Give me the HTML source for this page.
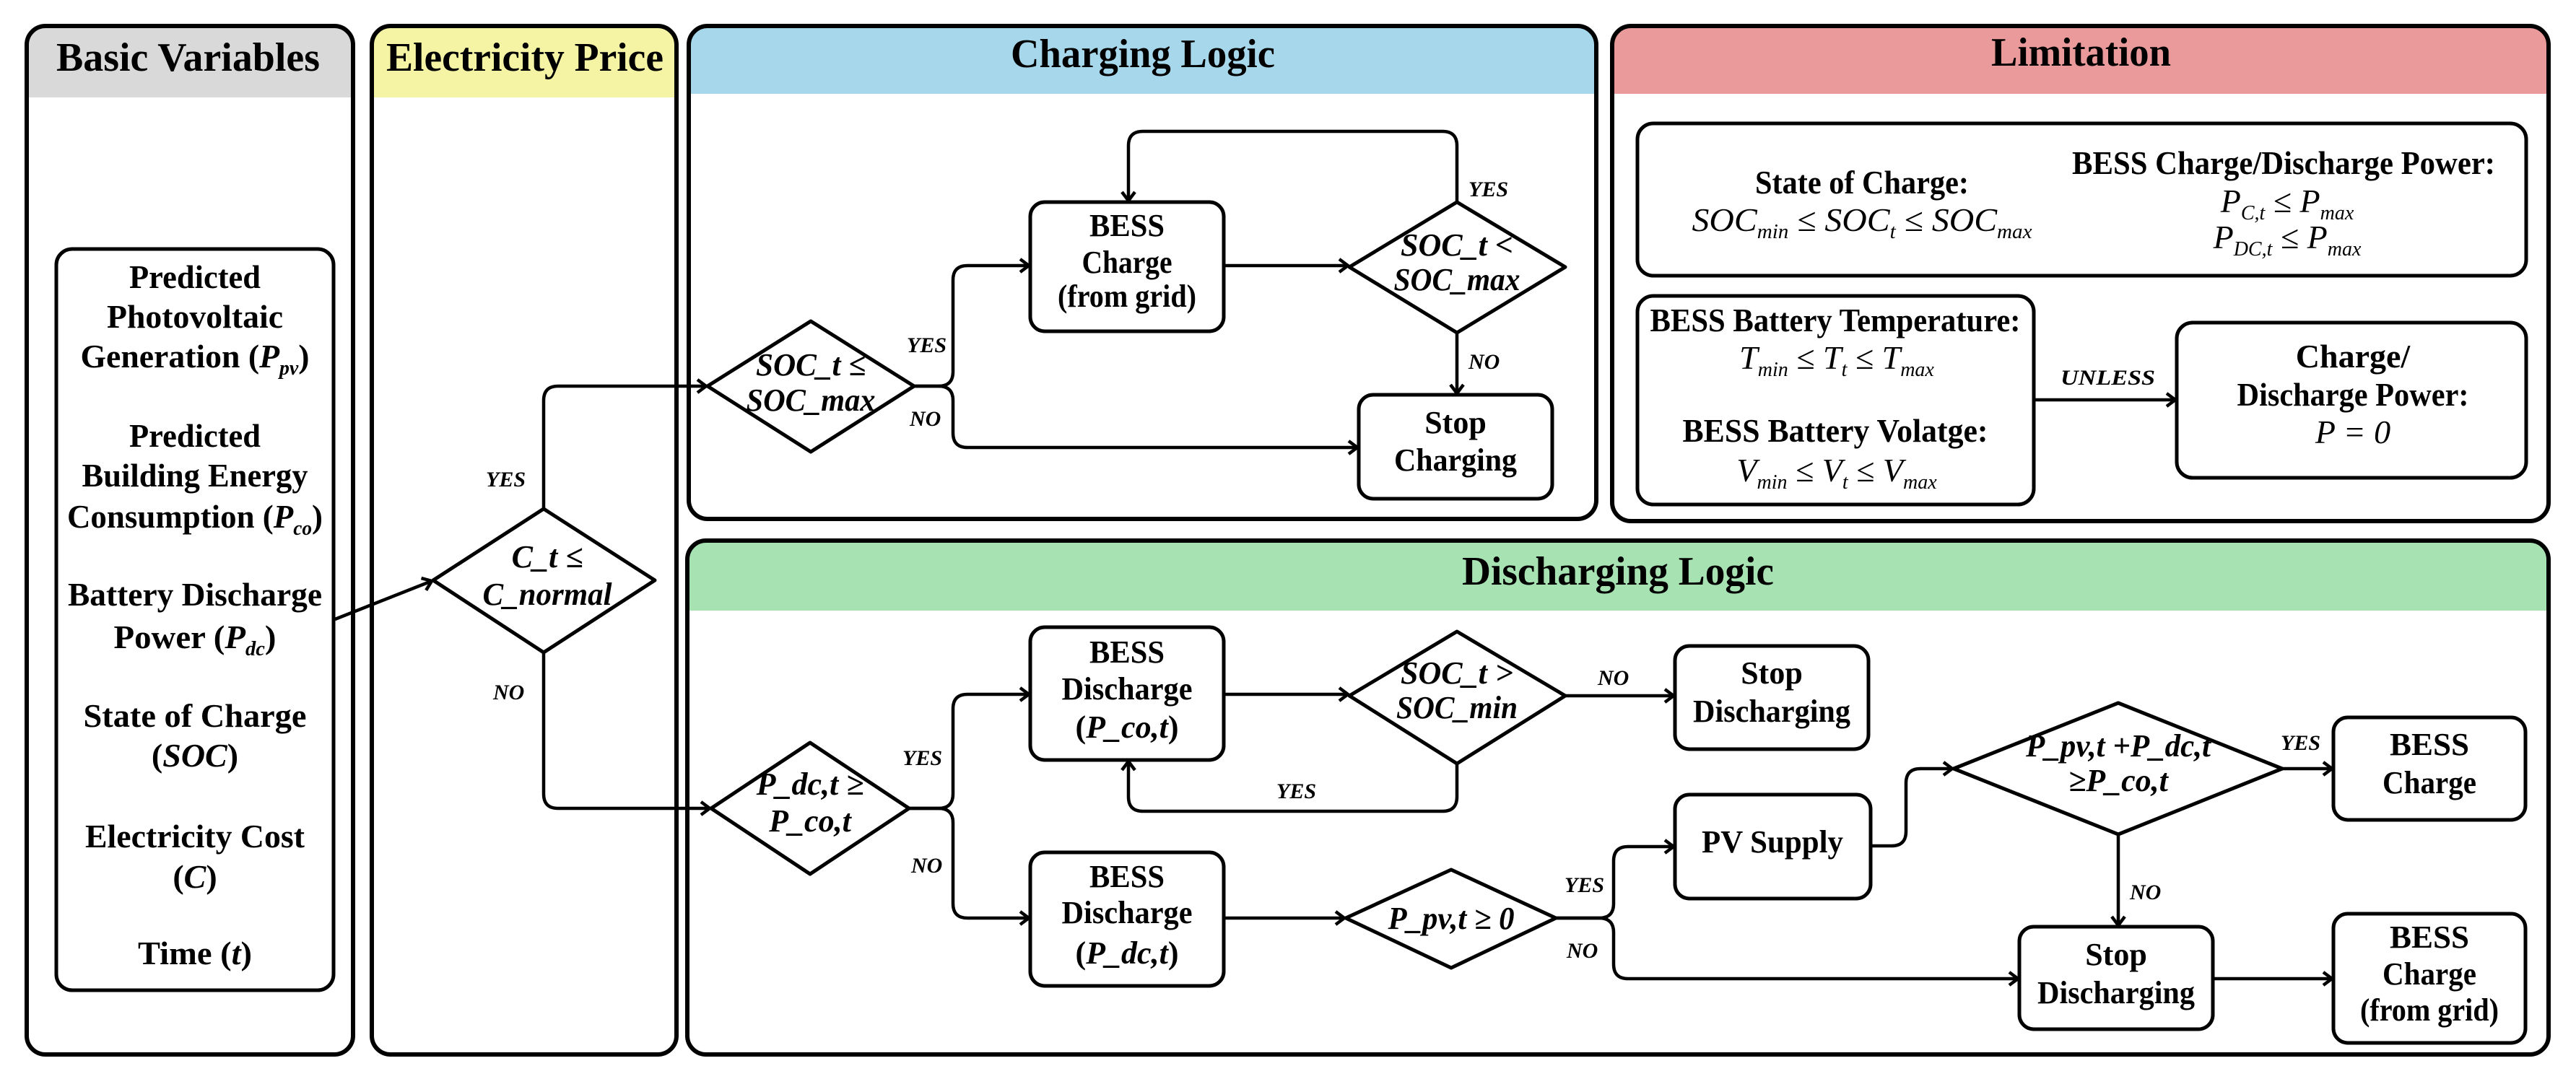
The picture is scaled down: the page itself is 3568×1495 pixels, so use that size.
<!DOCTYPE html>
<html><head><meta charset="utf-8"><style>
html,body{margin:0;padding:0;background:#fff;}
svg{display:block;}
text{font-family:"Liberation Serif","DejaVu Serif",serif;fill:#000;}
.h{font-size:56px;font-weight:bold;}
.b{font-size:46px;font-weight:bold;}
.bx{font-size:44px;font-weight:bold;}
.d{font-size:44px;font-weight:bold;font-style:italic;}
.l{font-size:30px;font-weight:bold;font-style:italic;}
.f{font-size:46px;font-style:italic;}
.panel{fill:none;stroke:#000;stroke-width:6;}
.box{fill:#fff;stroke:#000;stroke-width:5;}
.c{fill:none;stroke:#000;stroke-width:4.5;}
</style></head><body>
<svg width="3568" height="1495" viewBox="0 0 3568 1495" xmlns="http://www.w3.org/2000/svg">
<defs>
<marker id="a" markerWidth="24" markerHeight="24" refX="20" refY="12" orient="auto" markerUnits="userSpaceOnUse">
<polyline points="8,3 20,12 8,21" fill="none" stroke="#000" stroke-width="4.5"/>
</marker>
<clipPath id="p1"><rect x="37" y="36" width="452" height="1425" rx="26"/></clipPath>
<clipPath id="p2"><rect x="515" y="36" width="422" height="1425" rx="26"/></clipPath>
<clipPath id="p3"><rect x="954" y="36" width="1257" height="683" rx="26"/></clipPath>
<clipPath id="p4"><rect x="2233" y="36" width="1297" height="686" rx="26"/></clipPath>
<clipPath id="p5"><rect x="952" y="749" width="2578" height="712" rx="26"/></clipPath>
</defs>
<rect width="3568" height="1495" fill="#fff"/>

<!-- headers -->
<rect x="37" y="36" width="452" height="99" fill="#d9d9d9" clip-path="url(#p1)"/>
<rect x="515" y="36" width="422" height="99" fill="#f4f4a4" clip-path="url(#p2)"/>
<rect x="954" y="36" width="1257" height="94" fill="#a6d7eb" clip-path="url(#p3)"/>
<rect x="2233" y="36" width="1297" height="94" fill="#eb9a9b" clip-path="url(#p4)"/>
<rect x="952" y="749" width="2578" height="97" fill="#a6e2b2" clip-path="url(#p5)"/>

<rect class="panel" x="37" y="36" width="452" height="1425" rx="26"/>
<rect class="panel" x="515" y="36" width="422" height="1425" rx="26"/>
<rect class="panel" x="954" y="36" width="1257" height="683" rx="26"/>
<rect class="panel" x="2233" y="36" width="1297" height="686" rx="26"/>
<rect class="panel" x="952" y="749" width="2578" height="712" rx="26"/>

<text class="h" x="78" y="98" textLength="365" lengthAdjust="spacingAndGlyphs">Basic Variables</text>
<text class="h" x="535" y="98" textLength="384" lengthAdjust="spacingAndGlyphs">Electricity Price</text>
<text class="h" x="1400" y="93" textLength="366" lengthAdjust="spacingAndGlyphs">Charging Logic</text>
<text class="h" x="2758" y="91" textLength="249" lengthAdjust="spacingAndGlyphs">Limitation</text>
<text class="h" x="2025" y="810" textLength="432" lengthAdjust="spacingAndGlyphs">Discharging Logic</text>

<!-- basic variables box -->
<rect class="box" x="78" y="345" width="384" height="1027" rx="22"/>
<g class="b" text-anchor="middle">
<text x="270" y="399" textLength="182" lengthAdjust="spacingAndGlyphs">Predicted</text>
<text x="270" y="454" textLength="244" lengthAdjust="spacingAndGlyphs">Photovoltaic</text>
<text x="270" y="509" textLength="317" lengthAdjust="spacingAndGlyphs">Generation (<tspan font-style="italic">P</tspan><tspan font-size="28" dy="10" font-style="italic">pv</tspan><tspan dy="-10">)</tspan></text>
<text x="270" y="619" textLength="182" lengthAdjust="spacingAndGlyphs">Predicted</text>
<text x="270" y="674" textLength="313" lengthAdjust="spacingAndGlyphs">Building Energy</text>
<text x="270" y="731" textLength="354" lengthAdjust="spacingAndGlyphs">Consumption (<tspan font-style="italic">P</tspan><tspan font-size="28" dy="10" font-style="italic">co</tspan><tspan dy="-10">)</tspan></text>
<text x="270" y="839" textLength="352" lengthAdjust="spacingAndGlyphs">Battery Discharge</text>
<text x="270" y="898" textLength="225" lengthAdjust="spacingAndGlyphs">Power (<tspan font-style="italic">P</tspan><tspan font-size="28" dy="10" font-style="italic">dc</tspan><tspan dy="-10">)</tspan></text>
<text x="270" y="1007" textLength="309" lengthAdjust="spacingAndGlyphs">State of Charge</text>
<text x="270" y="1062">(<tspan font-style="italic">SOC</tspan>)</text>
<text x="270" y="1174" textLength="304" lengthAdjust="spacingAndGlyphs">Electricity Cost</text>
<text x="270" y="1230">(<tspan font-style="italic">C</tspan>)</text>
<text x="270" y="1336" textLength="158" lengthAdjust="spacingAndGlyphs">Time (<tspan font-style="italic">t</tspan>)</text>
</g>

<!-- electricity diamond -->
<polygon class="box" points="753,705 907,804 753,904 600,804" stroke-linejoin="round"/>
<g class="d" text-anchor="middle">
<text x="758" y="786">C_t ≤</text>
<text x="758" y="838" textLength="179" lengthAdjust="spacingAndGlyphs">C_normal</text>
</g>
<path class="c" d="M464,858 L598,805" marker-end="url(#a)"/>
<path class="c" d="M753,705 V555 Q753,535 773,535 H978" marker-end="url(#a)"/>
<path class="c" d="M753,904 V1100 Q753,1120 773,1120 H983" marker-end="url(#a)"/>
<text class="l" x="673" y="674">YES</text>
<text class="l" x="683" y="969">NO</text>

<!-- charging logic -->
<polygon class="box" points="1123,445 1266,535 1123,626 980,535" stroke-linejoin="round"/>
<g class="d" text-anchor="middle">
<text x="1123" y="520" textLength="152" lengthAdjust="spacingAndGlyphs">SOC_t ≤</text>
<text x="1123" y="569" textLength="179" lengthAdjust="spacingAndGlyphs">SOC_max</text>
</g>
<path class="c" d="M1266,535 H1300 Q1320,535 1320,515 V388 Q1320,368 1340,368 H1425" marker-end="url(#a)"/>
<path class="c" d="M1266,535 H1300 Q1320,535 1320,555 V600 Q1320,620 1340,620 H1880" marker-end="url(#a)"/>
<text class="l" x="1256" y="488">YES</text>
<text class="l" x="1260" y="590">NO</text>

<rect class="box" x="1427" y="280" width="268" height="179" rx="20"/>
<g class="bx" text-anchor="middle">
<text x="1561" y="327" textLength="104" lengthAdjust="spacingAndGlyphs">BESS</text>
<text x="1561" y="378" textLength="125" lengthAdjust="spacingAndGlyphs">Charge</text>
<text x="1561" y="425" textLength="192" lengthAdjust="spacingAndGlyphs">(from grid)</text>
</g>
<path class="c" d="M1695,368 H1867" marker-end="url(#a)"/>
<polygon class="box" points="2018,280 2168,370 2018,461 1869,370" stroke-linejoin="round"/>
<g class="d" text-anchor="middle">
<text x="2018" y="354">SOC_t &lt;</text>
<text x="2018" y="402" textLength="175" lengthAdjust="spacingAndGlyphs">SOC_max</text>
</g>
<path class="c" d="M2018,280 V202 Q2018,182 1998,182 H1583 Q1563,182 1563,202 V278" marker-end="url(#a)"/>
<text class="l" x="2034" y="272">YES</text>
<path class="c" d="M2018,461 V545" marker-end="url(#a)"/>
<text class="l" x="2034" y="511">NO</text>
<rect class="box" x="1882" y="547" width="268" height="144" rx="20"/>
<g class="bx" text-anchor="middle">
<text x="2016" y="600">Stop</text>
<text x="2016" y="652" textLength="170" lengthAdjust="spacingAndGlyphs">Charging</text>
</g>

<!-- limitation -->
<rect class="box" x="2268" y="171" width="1231" height="211" rx="22"/>
<g class="b" text-anchor="middle">
<text x="2579" y="268" textLength="296" lengthAdjust="spacingAndGlyphs">State of Charge:</text>
<text x="3163" y="241" textLength="586" lengthAdjust="spacingAndGlyphs">BESS Charge/Discharge Power:</text>
</g>
<g class="f" text-anchor="middle">
<text x="2579" y="320" textLength="471" lengthAdjust="spacingAndGlyphs">SOC<tspan font-size="28" dy="10">min</tspan><tspan dy="-10"> ≤ SOC</tspan><tspan font-size="28" dy="10">t</tspan><tspan dy="-10"> ≤ SOC</tspan><tspan font-size="28" dy="10">max</tspan></text>
<text x="3168" y="294">P<tspan font-size="28" dy="10">C,t</tspan><tspan dy="-10"> ≤ P</tspan><tspan font-size="28" dy="10">max</tspan></text>
<text x="3168" y="344">P<tspan font-size="28" dy="10">DC,t</tspan><tspan dy="-10"> ≤ P</tspan><tspan font-size="28" dy="10">max</tspan></text>
</g>
<rect class="box" x="2268" y="410" width="549" height="289" rx="22"/>
<g class="b" text-anchor="middle">
<text x="2542" y="459" textLength="513" lengthAdjust="spacingAndGlyphs">BESS Battery Temperature:</text>
<text x="2542" y="612" textLength="423" lengthAdjust="spacingAndGlyphs">BESS Battery Volatge:</text>
</g>
<g class="f" text-anchor="middle">
<text x="2544" y="511">T<tspan font-size="28" dy="10">min</tspan><tspan dy="-10"> ≤ T</tspan><tspan font-size="28" dy="10">t</tspan><tspan dy="-10"> ≤ T</tspan><tspan font-size="28" dy="10">max</tspan></text>
<text x="2544" y="667">V<tspan font-size="28" dy="10">min</tspan><tspan dy="-10"> ≤ V</tspan><tspan font-size="28" dy="10">t</tspan><tspan dy="-10"> ≤ V</tspan><tspan font-size="28" dy="10">max</tspan></text>
</g>
<path class="c" d="M2817,554 H3013" marker-end="url(#a)"/>
<text class="l" x="2854" y="533" textLength="131" lengthAdjust="spacingAndGlyphs">UNLESS</text>
<rect class="box" x="3015" y="447" width="484" height="215" rx="22"/>
<g class="b" text-anchor="middle">
<text x="3259" y="509">Charge/</text>
<text x="3259" y="562" textLength="321" lengthAdjust="spacingAndGlyphs">Discharge Power:</text>
</g>
<text class="f" x="3259" y="614" text-anchor="middle">P = 0</text>

<!-- discharging logic -->
<polygon class="box" points="1122,1029 1259,1120 1122,1211 985,1120" stroke-linejoin="round"/>
<g class="d" text-anchor="middle">
<text x="1122" y="1101">P_dc,t ≥</text>
<text x="1122" y="1152">P_co,t</text>
</g>
<path class="c" d="M1259,1120 H1300 Q1320,1120 1320,1100 V982 Q1320,962 1340,962 H1425" marker-end="url(#a)"/>
<path class="c" d="M1259,1120 H1300 Q1320,1120 1320,1140 V1252 Q1320,1272 1340,1272 H1425" marker-end="url(#a)"/>
<text class="l" x="1250" y="1060">YES</text>
<text class="l" x="1262" y="1209">NO</text>

<rect class="box" x="1427" y="869" width="268" height="184" rx="20"/>
<g class="bx" text-anchor="middle">
<text x="1561" y="918" textLength="104" lengthAdjust="spacingAndGlyphs">BESS</text>
<text x="1561" y="969" textLength="181" lengthAdjust="spacingAndGlyphs">Discharge</text>
<text x="1561" y="1022">(<tspan font-style="italic">P_co,t</tspan>)</text>
</g>
<path class="c" d="M1695,962 H1867" marker-end="url(#a)"/>
<polygon class="box" points="2018,875 2168,964 2018,1058 1869,964" stroke-linejoin="round"/>
<g class="d" text-anchor="middle">
<text x="2018" y="947">SOC_t &gt;</text>
<text x="2018" y="995" textLength="168" lengthAdjust="spacingAndGlyphs">SOC_min</text>
</g>
<path class="c" d="M2018,1058 V1104 Q2018,1124 1998,1124 H1583 Q1563,1124 1563,1104 V1055" marker-end="url(#a)"/>
<text class="l" x="1768" y="1106">YES</text>
<path class="c" d="M2168,964 H2318" marker-end="url(#a)"/>
<text class="l" x="2213" y="949">NO</text>
<rect class="box" x="2320" y="895" width="268" height="143" rx="20"/>
<g class="bx" text-anchor="middle">
<text x="2454" y="947">Stop</text>
<text x="2454" y="1000" textLength="218" lengthAdjust="spacingAndGlyphs">Discharging</text>
</g>

<rect class="box" x="1427" y="1181" width="268" height="185" rx="20"/>
<g class="bx" text-anchor="middle">
<text x="1561" y="1229" textLength="104" lengthAdjust="spacingAndGlyphs">BESS</text>
<text x="1561" y="1279" textLength="181" lengthAdjust="spacingAndGlyphs">Discharge</text>
<text x="1561" y="1335">(<tspan font-style="italic">P_dc,t</tspan>)</text>
</g>
<path class="c" d="M1695,1272 H1862" marker-end="url(#a)"/>
<polygon class="box" points="2010,1205 2155,1272 2010,1341 1864,1272" stroke-linejoin="round"/>
<text class="d" x="2010" y="1287" text-anchor="middle" textLength="175" lengthAdjust="spacingAndGlyphs">P_pv,t ≥ 0</text>
<path class="c" d="M2155,1272 H2215 Q2235,1272 2235,1252 V1193 Q2235,1173 2255,1173 H2318" marker-end="url(#a)"/>
<path class="c" d="M2155,1272 H2215 Q2235,1272 2235,1292 V1336 Q2235,1356 2255,1356 H2795" marker-end="url(#a)"/>
<text class="l" x="2167" y="1236">YES</text>
<text class="l" x="2170" y="1327">NO</text>

<rect class="box" x="2320" y="1101" width="271" height="144" rx="20"/>
<text class="bx" x="2455" y="1181" text-anchor="middle" textLength="196" lengthAdjust="spacingAndGlyphs">PV Supply</text>
<path class="c" d="M2591,1172 H2620 Q2640,1172 2640,1152 V1085 Q2640,1065 2660,1065 H2704" marker-end="url(#a)"/>
<polygon class="box" points="2934,974 3161,1065 2934,1156 2706,1065" stroke-linejoin="round"/>
<g class="d" text-anchor="middle">
<text x="2934" y="1048" textLength="256" lengthAdjust="spacingAndGlyphs">P_pv,t +P_dc,t</text>
<text x="2934" y="1096">≥P_co,t</text>
</g>
<path class="c" d="M3161,1065 H3230" marker-end="url(#a)"/>
<text class="l" x="3159" y="1039">YES</text>
<rect class="box" x="3232" y="994" width="266" height="142" rx="20"/>
<g class="bx" text-anchor="middle">
<text x="3365" y="1046" textLength="110" lengthAdjust="spacingAndGlyphs">BESS</text>
<text x="3365" y="1099" textLength="130" lengthAdjust="spacingAndGlyphs">Charge</text>
</g>
<path class="c" d="M2934,1156 V1282" marker-end="url(#a)"/>
<text class="l" x="2950" y="1246">NO</text>
<rect class="box" x="2797" y="1284" width="268" height="142" rx="20"/>
<g class="bx" text-anchor="middle">
<text x="2931" y="1337">Stop</text>
<text x="2931" y="1390" textLength="218" lengthAdjust="spacingAndGlyphs">Discharging</text>
</g>
<path class="c" d="M3065,1356 H3230" marker-end="url(#a)"/>
<rect class="box" x="3232" y="1266" width="266" height="179" rx="20"/>
<g class="bx" text-anchor="middle">
<text x="3365" y="1313" textLength="110" lengthAdjust="spacingAndGlyphs">BESS</text>
<text x="3365" y="1364" textLength="130" lengthAdjust="spacingAndGlyphs">Charge</text>
<text x="3365" y="1414" textLength="192" lengthAdjust="spacingAndGlyphs">(from grid)</text>
</g>
</svg>
</body></html>
